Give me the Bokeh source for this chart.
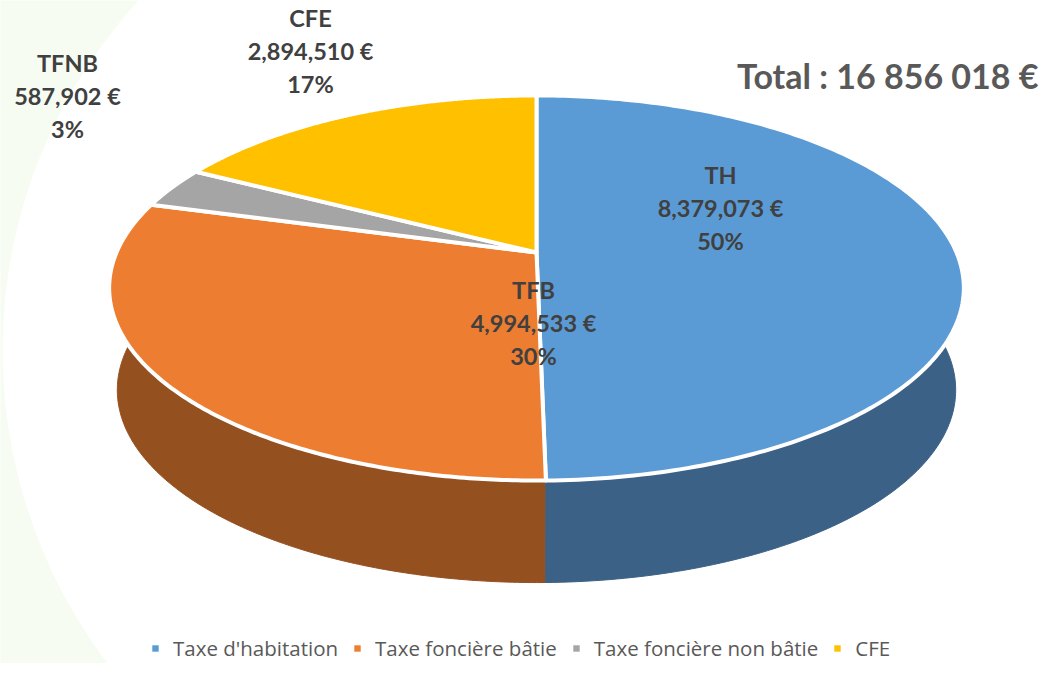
import numpy as np
from bokeh.plotting import figure
from bokeh.models import Range1d, Legend, LegendItem, ColumnDataSource
from bokeh.embed import file_html
from bokeh.resources import INLINE
from bokeh.core.properties import value

# ---------------- data ----------------
short_names = ["TH", "TFB", "TFNB", "CFE"]
long_names = ["Taxe d'habitation", "Taxe foncière bâtie", "Taxe foncière non bâtie", "CFE"]
amounts = [8379073, 4994533, 587902, 2894510]

# ---------------- styles / layout ----------------
top_colors = ["#5B9BD5", "#ED7D31", "#A5A5A5", "#FFC000"]
side_colors = ["#3B6186", "#955020", "#6B6B6B", "#A67C00"]
label_x = [720, 533, 67, 310]
label_y = [207, 322, 95, 50]
LINE_GAP = 33

# perspective projection of the pie disc (screen pixel coordinates)
K = 0.1844
TOP = dict(cx=536.0, cy=252.0, a=420.0, b=186.0)
BOT = dict(cx=536.0, cy=354.0, a=412.0, b=186.0)


def project(phi, P):
    u = np.sin(phi)
    v = np.cos(phi)
    w = 1.0 + K * v
    return P["cx"] + P["a"] * u / w, P["cy"] - P["b"] * v / w


total = sum(amounts)
fracs = [a / total for a in amounts]
edges = np.concatenate([[0.0], np.cumsum(fracs)]) * 2 * np.pi

W, H = 1040, 663
p = figure(width=W, height=H, x_range=Range1d(0, W), y_range=Range1d(H, 0),
           output_backend="svg", toolbar_location=None, min_border=0)
p.axis.visible = False
p.grid.visible = False
p.outline_line_color = None
p.background_fill_color = "white"

# very faint template swirl in the background (left side)
p.annular_wedge(x=[520], y=[350], inner_radius=518, outer_radius=900,
                start_angle=np.pi / 2, end_angle=3 * np.pi / 2,
                fill_color="#F7FCF2", line_color=None)

wall_xs, wall_ys, top_xs, top_ys = [], [], [], []
for i in range(len(amounts)):
    phis = np.linspace(edges[i], edges[i + 1], 200)
    tx, ty = project(phis, TOP)
    bx, by = project(phis, BOT)
    wall_xs.append(np.concatenate([tx, bx[::-1]]))
    wall_ys.append(np.concatenate([ty, by[::-1]]))
    top_xs.append(np.concatenate([[TOP["cx"]], tx]))
    top_ys.append(np.concatenate([[TOP["cy"]], ty]))

# back walls first, then front walls, then the top faces
order = [3, 2, 1, 0]
p.patches([wall_xs[i] for i in order], [wall_ys[i] for i in order],
          fill_color=[side_colors[i] for i in order],
          line_color=[side_colors[i] for i in order], line_width=1)
p.patches(top_xs, top_ys, fill_color=top_colors, line_color="white", line_width=4,
          line_join="round")

# data labels: one row per text line
lx, ly, lt, lo = [], [], [], []
for n, a, f, x, y in zip(short_names, amounts, fracs, label_x, label_y):
    for j, t in enumerate([n, f"{a:,} €", f"{round(f * 100):.0f}%"]):
        lx.append(x)
        ly.append(y)
        lt.append(t)
        lo.append((j - 1) * LINE_GAP)
src = ColumnDataSource(dict(x=lx, y=ly, text=lt, yo=lo))
p.text(x="x", y="y", text="text", y_offset="yo", source=src, text_align="center",
       text_baseline="middle", text_font=value("Lato"), text_font_style="bold",
       text_font_size="23.5px", text_color="#404040")

# total
total_txt = "Total : " + f"{total:,}".replace(",", " ") + " €"
p.text(x=[1038], y=[75], text=[total_txt], text_align="right", text_baseline="middle",
       text_font=value("Lato"), text_font_style="bold", text_font_size="34px",
       text_color="#595959")

# legend (swatch renderers sit outside the visible area)
items = []
for n, c in zip(long_names, top_colors):
    r = p.quad(left=[-50], right=[-40], top=[-50], bottom=[-40], fill_color=c, line_color=None)
    items.append(LegendItem(label=n, renderers=[r]))
legend = Legend(items=items, orientation="horizontal", location=(151, 1),
                glyph_width=8, glyph_height=8, label_standoff=14, spacing=15,
                label_text_font="Open Sans", label_text_font_size="20.5px",
                label_text_color="#595959",
                background_fill_alpha=0, border_line_color=None, padding=0, margin=0)
p.add_layout(legend)

open("out.html", "w").write(file_html(p, INLINE))
